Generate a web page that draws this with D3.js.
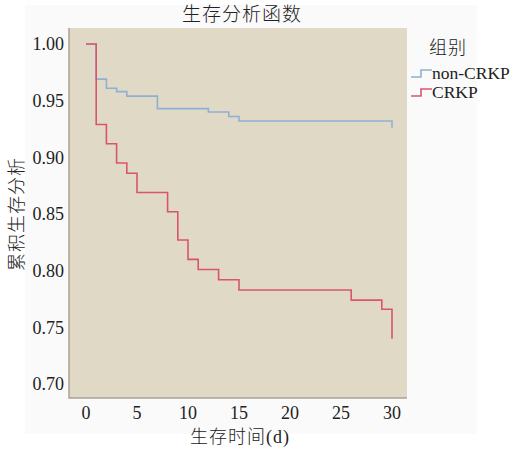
<!DOCTYPE html>
<html lang="zh">
<head>
<meta charset="UTF-8">
<title>生存分析函数</title>
<script src="https://d3js.org/d3.v7.min.js"></script>
<style>
    body { margin: 0; background: #fff; }
    svg text { fill: #222; }
</style>
</head>
<body>
<svg id="chart" width="517" height="452"></svg>
<script>
    // 数据
    const groups = ["non-CRKP", "CRKP"];
    const colors = ["#8fb0d6", "#d9556c"];
    const nonTimes = [0, 1, 2, 3, 4, 7, 12, 14, 15, 30];
    const nonSurv  = [1.00, 0.969, 0.961, 0.958, 0.954, 0.943, 0.940, 0.936, 0.932, 0.926];
    const crTimes  = [0, 1, 2, 3, 4, 5, 8, 9, 10, 11, 13, 15, 26, 29, 30];
    const crSurv   = [1.00, 0.929, 0.912, 0.895, 0.886, 0.869, 0.852, 0.827, 0.810, 0.801, 0.792, 0.783, 0.774, 0.766, 0.740];
    const xTicks = [0, 5, 10, 15, 20, 25, 30];
    const yTicks = [0.70, 0.75, 0.80, 0.85, 0.90, 0.95, 1.00];

    const serif = "'Liberation Serif', 'Times New Roman', 'DejaVu Serif', serif";
    const cjk = "'Liberation Serif', 'Noto Sans CJK SC', serif";

    const svg = d3.select("#chart");
    const plot = { left: 69, top: 28, right: 407, bottom: 398 };

    // 外框浅灰底
    svg.append("rect").attr("x", 25).attr("y", 5).attr("width", 452).attr("height", 429)
        .attr("fill", "#fafafa");

    const x = d3.scaleLinear().domain([0, 30]).range([86, 392]);
    const y = d3.scaleLinear().domain([0.70, 1.00]).range([384, 44]);

    svg.append("rect")
        .attr("x", plot.left).attr("y", plot.top)
        .attr("width", plot.right - plot.left).attr("height", plot.bottom - plot.top)
        .attr("fill", "#e0d9c5");

    // 坐标轴线
    svg.append("path")
        .attr("d", `M${plot.left},${plot.top}V${plot.bottom}H${plot.right}`)
        .attr("fill", "none").attr("stroke", "#a8a396").attr("stroke-width", 1.5);

    svg.selectAll(".ytick").data(yTicks).enter().append("text")
        .attr("class", "ytick")
        .attr("x", 64).attr("y", d => y(d))
        .attr("dy", "0.35em").attr("text-anchor", "end")
        .attr("font-family", serif).attr("font-size", 18)
        .text(d => d.toFixed(2));

    svg.selectAll(".xtick").data(xTicks).enter().append("text")
        .attr("class", "xtick")
        .attr("x", d => x(d)).attr("y", 413)
        .attr("dy", "0.35em").attr("text-anchor", "middle")
        .attr("font-family", serif).attr("font-size", 18)
        .text(d => d);

    const line = d3.line().curve(d3.curveStepAfter)
        .x(d => x(d[0])).y(d => y(d[1]));

    const series = [d3.zip(nonTimes, nonSurv), d3.zip(crTimes, crSurv)];
    svg.selectAll(".km").data(series).enter().append("path")
        .attr("class", "km")
        .attr("d", line)
        .attr("fill", "none")
        .attr("stroke", (d, i) => colors[i])
        .attr("stroke-width", 1.6);

    // 标题与轴标题
    svg.append("text").attr("x", 242).attr("y", 14).attr("dy", "0.35em")
        .attr("text-anchor", "middle").attr("font-family", cjk).attr("font-weight", 300)
        .attr("font-size", 19).attr("letter-spacing", 1).text("生存分析函数");
    svg.append("text").attr("x", 240).attr("y", 437).attr("dy", "0.35em")
        .attr("text-anchor", "middle").attr("font-family", cjk).attr("font-weight", 300)
        .attr("font-size", 18).attr("letter-spacing", 1).text("生存时间(d)");
    svg.append("text").attr("transform", "translate(17,214) rotate(-90)").attr("dy", "0.35em")
        .attr("text-anchor", "middle").attr("font-family", cjk).attr("font-weight", 300)
        .attr("font-size", 18).attr("letter-spacing", 1).text("累积生存分析");

    // 图例
    svg.append("text").attr("x", 429).attr("y", 48).attr("dy", "0.35em")
        .attr("font-family", cjk).attr("font-weight", 300).attr("font-size", 18)
        .attr("letter-spacing", 1).text("组别");
    const leg = svg.selectAll(".leg").data(groups).enter().append("g")
        .attr("class", "leg")
        .attr("transform", (d, i) => `translate(411,${73 + i * 19})`);
    leg.append("path")
        .attr("d", "M0,4H10V-3H21")
        .attr("fill", "none")
        .attr("stroke", (d, i) => colors[i])
        .attr("stroke-width", 1.6);
    leg.append("text").attr("x", 21).attr("dy", "0.35em")
        .attr("font-family", serif).attr("font-size", 17.5).text(d => d);
</script>
</body>
</html>
